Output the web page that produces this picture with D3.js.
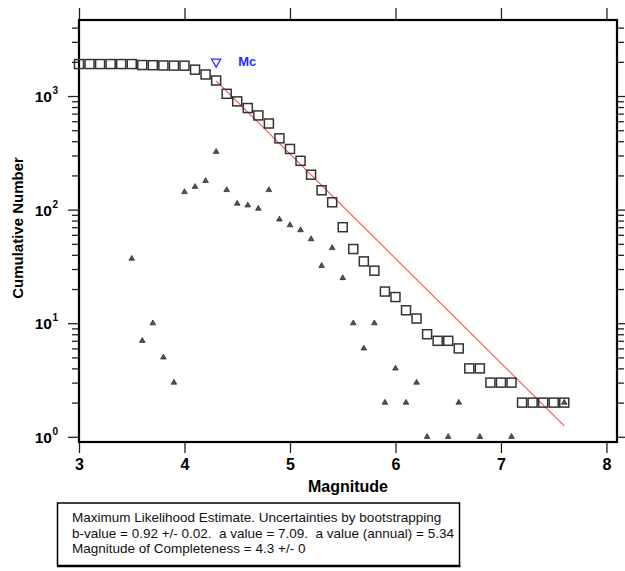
<!DOCTYPE html>
<html>
<head>
<meta charset="utf-8">
<script src="https://cdn.jsdelivr.net/npm/d3@7"></script>
<style>
  body { margin: 0; background: #fff; }
  text { font-family: "Liberation Sans", Arial, sans-serif; white-space: pre; }
</style>
</head>
<body>
<div id="chart"></div>
<script>
// magnitude bins (x) and cumulative number of events (squares)
var magnitudes = [3.0, 3.1, 3.2, 3.3, 3.4, 3.5, 3.6, 3.7, 3.8, 3.9,
  4.0, 4.1, 4.2, 4.3, 4.4, 4.5, 4.6, 4.7, 4.8, 4.9,
  5.0, 5.1, 5.2, 5.3, 5.4, 5.5, 5.6, 5.7, 5.8, 5.9,
  6.0, 6.1, 6.2, 6.3, 6.4, 6.5, 6.6, 6.7, 6.8, 6.9,
  7.0, 7.1, 7.2, 7.3, 7.4, 7.5, 7.6];
var cumulative = [1912, 1912, 1912, 1912, 1912, 1912, 1875, 1868, 1858, 1853,
  1850, 1707, 1548, 1369, 1046, 897, 784, 675, 573, 424,
  342, 269, 203, 148, 116, 70, 45, 35, 29, 19,
  17, 13, 11, 8, 7, 7, 6, 4, 4, 3,
  3, 3, 2, 2, 2, 2, 2];

// non-cumulative counts per bin (triangles)
var binMags = [3.5, 3.6, 3.7, 3.8, 3.9, 4.0, 4.1, 4.2, 4.3, 4.4, 4.5, 4.6, 4.7, 4.8, 4.9,
  5.0, 5.1, 5.2, 5.3, 5.4, 5.5, 5.6, 5.7, 5.8, 5.9, 6.0, 6.1, 6.2, 6.3, 6.5, 6.6, 6.8, 7.1, 7.6];
var binCounts = [37, 7, 10, 5, 3, 143, 159, 179, 323, 149, 113, 109, 102, 149, 82,
  73, 66, 55, 32, 46, 25, 10, 6, 10, 2, 4, 2, 3, 1, 1, 2, 1, 1, 2];

// Gutenberg-Richter fit line end points
var fitMags = [4.3, 7.6];
var fitValues = [1361, 1.25];

var mcMag = 4.3;
var mcMarker = 2000;

var xTicks = [3, 4, 5, 6, 7, 8];
var yTicks = [1, 10, 100, 1000];
var yExponents = ["0", "1", "2", "3"];

var infoLines = [
  "Maximum Likelihood Estimate. Uncertainties by bootstrapping",
  "b-value = 0.92 +/- 0.02.  a value = 7.09.  a value (annual) = 5.34",
  "Magnitude of Completeness = 4.3 +/- 0"
];

var pad = {left: 79, right: 617, top: 20, bottom: 442};

var x = d3.scaleLinear()
  .domain([3, 8.1])
  .range([pad.left, pad.right]);
var y = d3.scaleLog()
  .domain([0.9, 4670])
  .range([pad.bottom, pad.top]);

var minorTicks = [];
[1, 10, 100, 1000].forEach(function(p) {
  for (var k = 2; k <= 9; k++) {
    if (p * k < 4670) minorTicks.push(p * k);
  }
});

var svg = d3.select("#chart").append("svg")
  .attr("width", 625)
  .attr("height", 571)
  .style("display", "block");

function styleAxis(g) {
  g.select(".domain").remove();
  g.selectAll(".tick line").attr("stroke", "#222").attr("stroke-width", 1.3);
}

// x axes (bottom with labels, top ticks only)
svg.append("g")
  .attr("transform", "translate(0," + pad.bottom + ")")
  .call(d3.axisBottom(x).tickValues(xTicks).tickSize(11).tickPadding(6).tickFormat(d3.format("d")))
  .call(styleAxis)
  .selectAll("text")
    .attr("font-size", 16).attr("font-weight", "bold").attr("fill", "#000");

svg.append("g")
  .attr("transform", "translate(0," + pad.top + ")")
  .call(d3.axisTop(x).tickValues(xTicks).tickSize(12).tickFormat(""))
  .call(styleAxis);

// y axes, major and minor
svg.append("g")
  .attr("transform", "translate(" + pad.left + ",0)")
  .call(d3.axisLeft(y).tickValues(yTicks).tickSize(11).tickFormat(""))
  .call(styleAxis);
svg.append("g")
  .attr("transform", "translate(" + pad.left + ",0)")
  .call(d3.axisLeft(y).tickValues(minorTicks).tickSize(7).tickFormat(""))
  .call(styleAxis);
svg.append("g")
  .attr("transform", "translate(" + pad.right + ",0)")
  .call(d3.axisRight(y).tickValues(yTicks).tickSize(11).tickFormat(""))
  .call(styleAxis);
svg.append("g")
  .attr("transform", "translate(" + pad.right + ",0)")
  .call(d3.axisRight(y).tickValues(minorTicks).tickSize(7).tickFormat(""))
  .call(styleAxis);

// power-of-ten labels
svg.append("g").selectAll("text")
  .data(yTicks)
  .enter().append("text")
    .attr("x", 52)
    .attr("y", function(d) { return y(d) + 6; })
    .attr("text-anchor", "end")
    .attr("font-size", 15.5)
    .attr("font-weight", "bold")
    .text("10");
svg.append("g").selectAll("text")
  .data(yTicks)
  .enter().append("text")
    .attr("x", 52.5)
    .attr("y", function(d) { return y(d) - 2; })
    .attr("font-size", 10)
    .attr("font-weight", "bold")
    .text(function(d, i) { return yExponents[i]; });

// frame
svg.append("rect")
  .attr("x", pad.left).attr("y", pad.top)
  .attr("width", pad.right - pad.left).attr("height", pad.bottom - pad.top)
  .attr("fill", "none")
  .attr("stroke", "#000")
  .attr("stroke-width", 2.2);

// axis titles
svg.append("text")
  .attr("x", (pad.left + pad.right) / 2)
  .attr("y", 492)
  .attr("text-anchor", "middle")
  .attr("font-size", 16)
  .attr("font-weight", "bold")
  .text("Magnitude");
svg.append("text")
  .attr("transform", "translate(23,228) rotate(-90)")
  .attr("text-anchor", "middle")
  .attr("font-size", 15)
  .attr("font-weight", "bold")
  .text("Cumulative Number");

// fit line
svg.append("path")
  .datum(d3.zip(fitMags, fitValues))
  .attr("fill", "none")
  .attr("stroke", "#ff4d4d")
  .attr("stroke-width", 1.1)
  .attr("d", d3.line()
    .x(function(d) { return x(d[0]); })
    .y(function(d) { return y(d[1]); }));

// cumulative squares
svg.append("g").selectAll("rect")
  .data(d3.zip(magnitudes, cumulative))
  .enter().append("rect")
    .attr("x", function(d) { return x(d[0]) - 4.5; })
    .attr("y", function(d) { return y(d[1]) - 4.5; })
    .attr("width", 9)
    .attr("height", 9)
    .attr("fill", "none")
    .attr("stroke", "#333")
    .attr("stroke-width", 1.5);

// non-cumulative triangles
svg.append("g").selectAll("path")
  .data(d3.zip(binMags, binCounts))
  .enter().append("path")
    .attr("d", d3.symbol().type(d3.symbolTriangle).size(14))
    .attr("transform", function(d) { return "translate(" + x(d[0]) + "," + y(d[1]) + ")"; })
    .attr("fill", "#555")
    .attr("stroke", "#111")
    .attr("stroke-width", 0.6);

// magnitude of completeness marker
svg.append("path")
  .attr("d", d3.symbol().type(d3.symbolTriangle).size(36))
  .attr("transform", "translate(" + x(mcMag) + "," + y(mcMarker) + ") rotate(180)")
  .attr("fill", "none")
  .attr("stroke", "#2a2aff")
  .attr("stroke-width", 1.3);
svg.append("text")
  .attr("x", x(mcMag) + 22)
  .attr("y", y(mcMarker) + 4.5)
  .attr("font-size", 13)
  .attr("font-weight", "bold")
  .attr("fill", "#2a2aff")
  .text("Mc");

// info box
svg.append("rect")
  .attr("x", 57.5).attr("y", 503)
  .attr("width", 402).attr("height", 63)
  .attr("fill", "#fff")
  .attr("stroke", "#000")
  .attr("stroke-width", 1.5);
svg.append("line")
  .attr("x1", 57).attr("x2", 460.5)
  .attr("y1", 566).attr("y2", 566)
  .attr("stroke", "#000")
  .attr("stroke-width", 2.5);
svg.append("g").selectAll("text")
  .data(infoLines)
  .enter().append("text")
    .attr("x", 72)
    .attr("y", function(d, i) { return 522 + i * 15.7; })
    .attr("font-size", 13.5)
    .attr("fill", "#111")
    .text(function(d) { return d; });
</script>
</body>
</html>
